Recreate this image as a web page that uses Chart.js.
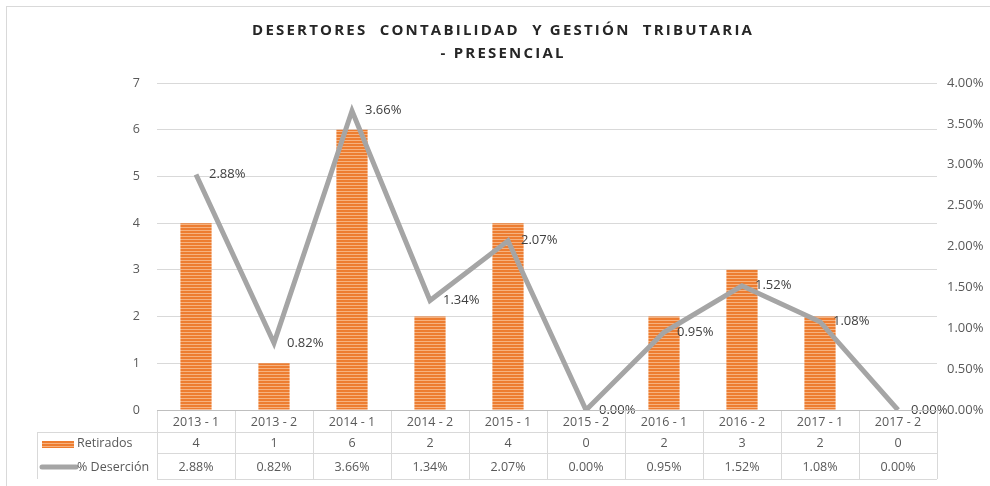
<!DOCTYPE html>
<html>
<head>
<meta charset="utf-8">
<script src="https://cdn.jsdelivr.net/npm/chart.js@4.4.0/dist/chart.umd.min.js"></script>
<style>
  html, body { margin: 0; padding: 0; background: #fff; }
  #wrap { width: 990px; height: 486px; position: relative; }
</style>
</head>
<body>
<div id="wrap"><canvas id="chart"></canvas></div>
<script>
const periodos = ['2013 - 1','2013 - 2','2014 - 1','2014 - 2','2015 - 1','2015 - 2','2016 - 1','2016 - 2','2017 - 1','2017 - 2'];
const retirados = [4, 1, 6, 2, 4, 0, 2, 3, 2, 0];
const desercion = [2.88, 0.82, 3.66, 1.34, 2.07, 0.00, 0.95, 1.52, 1.08, 0.00];
const ticksRetirados = [0, 1, 2, 3, 4, 5, 6, 7];
const ticksDesercion = [0, 0.5, 1, 1.5, 2, 2.5, 3, 3.5, 4];
const titulo = ['DESERTORES  CONTABILIDAD  Y GESTIÓN  TRIBUTARIA', '- PRESENCIAL'];

const FONT = '"Open Sans", sans-serif';
const NARANJA = '#ED7D31';
const GRIS = '#A5A5A5';
const TEXTO = '#595959';
const REJILLA = '#D9D9D9';

// striped fill for the bars (horizontal line pattern)
function rayado() {
  const c = document.createElement('canvas');
  c.width = 4; c.height = 3;
  const g = c.getContext('2d');
  g.fillStyle = '#F6B27F';
  g.fillRect(0, 0, 4, 3);
  g.fillStyle = NARANJA;
  g.fillRect(0, 0, 4, 2);
  return g.createPattern(c, 'repeat');
}

const pct = v => v.toFixed(2) + '%';

// title with spaced letters, first line spread to 500px
const tituloPlugin = {
  id: 'titulo',
  afterDraw(chart) {
    const ctx = chart.ctx;
    ctx.save();
    ctx.strokeStyle = '#D9D9D9';
    ctx.lineWidth = 1;
    ctx.strokeRect(6.5, 6.5, 1000, 1000);
    ctx.fillStyle = '#262626';
    ctx.font = 'bold 15px ' + FONT;
    const w = ctx.measureText(titulo[0]).width;
    const esp = Math.max(0, (500 - w) / (titulo[0].length - 1));
    ctx.letterSpacing = esp.toFixed(2) + 'px';
    ctx.textAlign = 'center';
    ctx.textBaseline = 'middle';
    ctx.fillText(titulo[0], 502 + esp / 2, 31);
    ctx.fillText(titulo[1], 502 + esp / 2, 54);
    ctx.restore();
  }
};

// value labels next to the line points
const etiquetasPlugin = {
  id: 'etiquetas',
  afterDatasetsDraw(chart) {
    const ctx = chart.ctx;
    const meta = chart.getDatasetMeta(1);
    ctx.save();
    ctx.font = '13px ' + FONT;
    ctx.fillStyle = '#404040';
    ctx.textAlign = 'left';
    ctx.textBaseline = 'middle';
    meta.data.forEach((pt, i) => {
      ctx.fillText(pct(desercion[i]), pt.x + 13, pt.y);
    });
    ctx.restore();
  }
};

// data table under the plot
const tablaPlugin = {
  id: 'tabla',
  afterDraw(chart) {
    const ctx = chart.ctx;
    const x = chart.scales.x;
    const area = chart.chartArea;
    const paso = (area.right - area.left) / periodos.length;
    const filas = [area.bottom, area.bottom + 22, area.bottom + 43, area.bottom + 69];
    const izq = 37;
    ctx.save();
    ctx.strokeStyle = REJILLA;
    ctx.lineWidth = 1;
    ctx.beginPath();
    for (let r = 1; r < filas.length; r++) {
      ctx.moveTo(r === 1 ? izq : area.left, Math.round(filas[r]) + 0.5);
      ctx.lineTo(area.right, Math.round(filas[r]) + 0.5);
    }
    for (let i = 0; i <= periodos.length; i++) {
      const px = Math.round(area.left + i * paso) + 0.5;
      ctx.moveTo(px, filas[0]);
      ctx.lineTo(px, filas[3]);
    }
    ctx.moveTo(izq + 0.5, filas[1]);
    ctx.lineTo(izq + 0.5, filas[3]);
    ctx.stroke();
    ctx.strokeStyle = '#BFBFBF';
    ctx.beginPath();
    ctx.moveTo(area.left, Math.round(filas[0]) + 0.5);
    ctx.lineTo(area.right, Math.round(filas[0]) + 0.5);
    ctx.stroke();

    ctx.font = '12.5px ' + FONT;
    ctx.fillStyle = TEXTO;
    ctx.textAlign = 'center';
    ctx.textBaseline = 'middle';
    periodos.forEach((p, i) => {
      const cx = x.getPixelForValue(i);
      ctx.fillText(p, cx, (filas[0] + filas[1]) / 2 + 1);
      ctx.fillText(String(retirados[i]), cx, (filas[1] + filas[2]) / 2 + 1);
      ctx.fillText(pct(desercion[i]), cx, (filas[2] + filas[3]) / 2 + 1);
    });

    // legend keys
    ctx.fillStyle = chart.data.datasets[0].backgroundColor;
    ctx.fillRect(42, 441, 32, 7);
    ctx.strokeStyle = GRIS;
    ctx.lineWidth = 5;
    ctx.lineCap = 'round';
    ctx.beginPath();
    ctx.moveTo(42, 467);
    ctx.lineTo(76, 467);
    ctx.stroke();
    ctx.fillStyle = TEXTO;
    ctx.textAlign = 'left';
    ctx.fillText('Retirados', 77, (filas[1] + filas[2]) / 2 + 1);
    ctx.fillText('% Deserción', 77, (filas[2] + filas[3]) / 2 + 1);
    ctx.restore();
  }
};

const ctx = document.getElementById('chart').getContext('2d');
const chart = new Chart(ctx, {
  type: 'bar',
  data: {
    labels: periodos,
    datasets: [
      {
        label: 'Retirados',
        data: retirados,
        backgroundColor: rayado(),
        yAxisID: 'y',
        categoryPercentage: 1,
        barPercentage: 0.4,
        order: 2
      },
      {
        type: 'line',
        label: '% Deserción',
        data: desercion,
        borderColor: GRIS,
        borderWidth: 5,
        pointRadius: 0,
        tension: 0,
        yAxisID: 'y1',
        order: 1
      }
    ]
  },
  options: {
    responsive: true,
    maintainAspectRatio: false,
    animation: false,
    layout: { padding: { top: 83, bottom: 76, left: 0, right: 0 } },
    plugins: {
      legend: { display: false },
      title: { display: false },
      tooltip: { enabled: false }
    },
    scales: {
      x: {
        display: false
      },
      y: {
        position: 'left',
        min: 0,
        max: 7,
        afterBuildTicks: s => { s.ticks = ticksRetirados.map(v => ({ value: v })); },
        afterFit: s => { s.width = 157; },
        ticks: { color: TEXTO, font: { family: FONT, size: 12.5 }, padding: 17 },
        grid: { color: REJILLA, drawTicks: false },
        border: { display: false }
      },
      y1: {
        position: 'right',
        min: 0,
        max: 4,
        afterBuildTicks: s => { s.ticks = ticksDesercion.map(v => ({ value: v })); },
        afterFit: s => { s.width = 53; },
        ticks: { color: TEXTO, font: { family: FONT, size: 13 }, padding: 10, callback: v => pct(v) },
        grid: { display: false, drawTicks: false },
        border: { display: false }
      }
    }
  },
  plugins: [tituloPlugin, etiquetasPlugin, tablaPlugin]
});
</script>
</body>
</html>
